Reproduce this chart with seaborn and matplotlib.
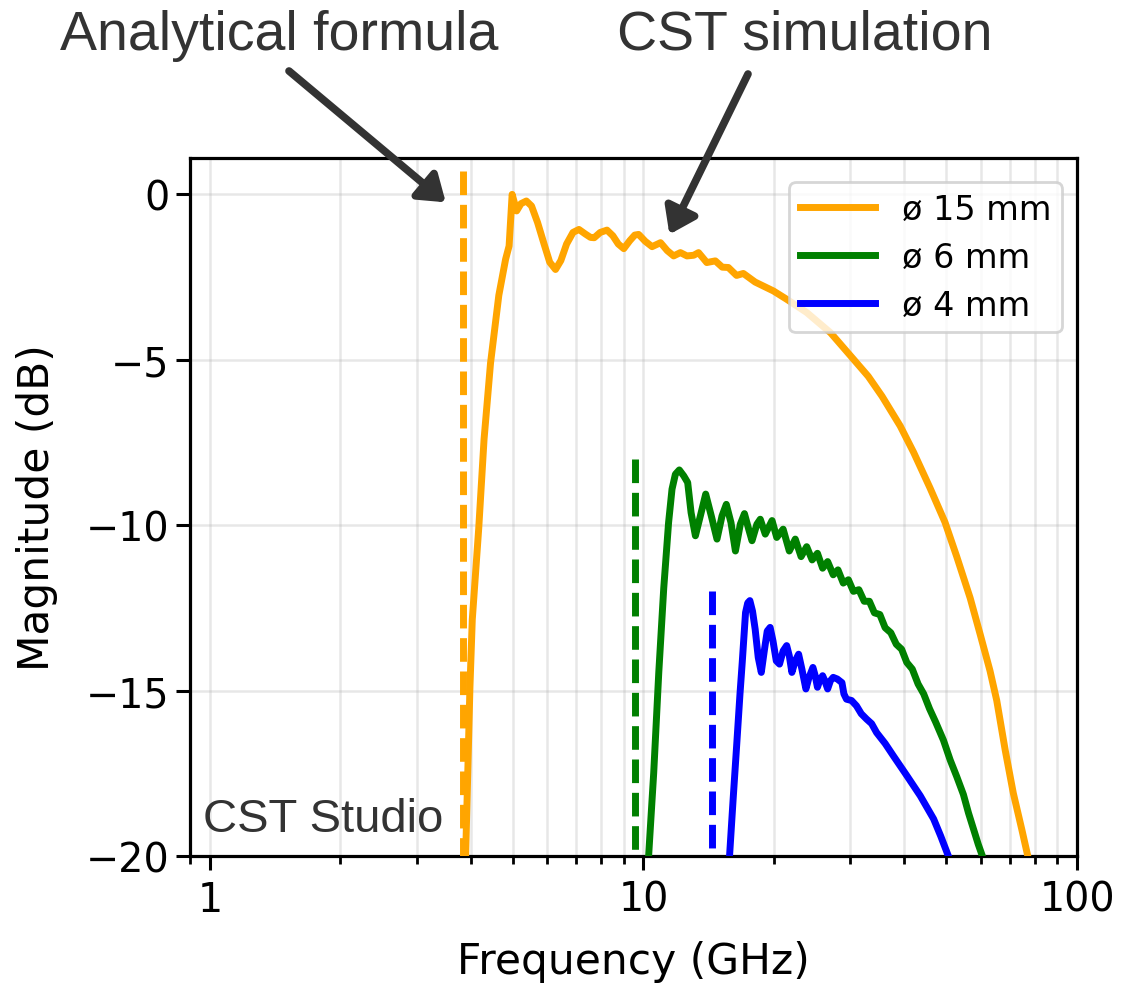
import matplotlib
matplotlib.use("Agg")
import matplotlib.pyplot as plt
import seaborn as sns
import pandas as pd
from matplotlib.ticker import FixedLocator, LogLocator, NullFormatter

# Transmission of circular waveguides of different diameters (CST simulation)
# together with the analytical cut-off frequency of each guide.

labels = ["ø 15 mm", "ø 6 mm", "ø 4 mm"]
colors = ["orange", "green", "blue"]

freq_15 = [3.89, 3.92, 3.98, 4.03, 4.17, 4.29, 4.44, 4.64, 4.81, 4.90, 4.98, 5.10,
           5.22, 5.37, 5.52, 5.70, 5.90, 6.08, 6.27, 6.45, 6.65, 6.88, 7.10, 7.35,
           7.55, 7.70, 7.95, 8.24, 8.50, 8.75, 9.01, 9.30, 9.55, 9.75, 10.1, 10.47,
           10.95, 11.35, 11.74, 12.17, 12.6, 13.06, 13.4, 14.0, 14.65, 15.2, 15.7,
           16.4, 17.0, 18.1, 18.9, 19.95, 21.4, 23.8, 27.0, 30.5, 33.0, 35.5, 39.1,
           42.0, 45.8, 49.6, 52.8, 56.7, 59.8, 63.0, 65.3, 68.3, 71.3, 74.6, 77.0]
mag_15 = [-20.0, -18.3, -14.9, -12.85, -10.1, -7.4, -5.1, -3.05, -1.96, -1.56, 0.0, -0.5,
          -0.28, -0.2, -0.35, -0.85, -1.5, -2.05, -2.27, -2.0, -1.5, -1.15, -1.06, -1.2,
          -1.3, -1.31, -1.15, -1.08, -1.25, -1.5, -1.64, -1.4, -1.23, -1.21, -1.42, -1.58,
          -1.46, -1.7, -1.86, -1.76, -1.86, -1.84, -1.76, -2.06, -2.01, -2.2, -2.21,
          -2.45, -2.39, -2.65, -2.77, -2.92, -3.17, -3.57, -4.18, -4.98, -5.5, -6.1, -7.0,
          -7.8, -8.87, -9.91, -10.95, -12.2, -13.3, -14.4, -15.3, -16.8, -18.1, -19.2, -20.0]

freq_6 = [10.28, 10.56, 10.85, 11.14, 11.43, 11.64, 11.85, 12.1, 12.39, 12.65, 12.88,
          13.18, 13.53, 13.92, 14.34, 14.78, 15.18, 15.53, 15.92, 16.3, 16.73, 17.1,
          17.49, 17.8, 18.27, 18.6, 19.1, 19.8, 20.3, 21.0, 21.7, 22.4, 23.1, 23.8,
          24.5, 25.2, 25.9, 26.6, 27.4, 28.1, 28.9, 29.7, 30.5, 31.4, 32.3, 33.2, 34.1,
          35.1, 36.1, 37.2, 38.3, 39.4, 40.5, 41.7, 43.0, 44.3, 45.7, 47.2, 49.2, 51.0,
          52.8, 54.7, 56.2, 57.7, 59.2, 60.5]
mag_6 = [-20.0, -17.5, -14.45, -11.9, -9.92, -8.91, -8.46, -8.33, -8.51, -8.71, -9.62,
         -10.32, -9.72, -9.06, -9.72, -10.42, -9.72, -9.37, -9.92, -10.78, -9.97, -9.65,
         -10.12, -10.47, -9.97, -9.82, -10.27, -9.86, -10.37, -10.12, -10.78, -10.42, -10.95, -10.65,
         -11.05, -10.85, -11.3, -11.1, -11.5, -11.35, -11.75, -11.65, -12.0, -11.95, -12.3, -12.3, -12.65,
         -12.7, -13.1, -13.25, -13.6, -13.75, -14.15, -14.35, -14.8, -15.1, -15.55, -15.95, -16.5, -17.1,
         -17.6, -18.14, -18.7, -19.18, -19.65, -20.0]

freq_4 = [15.8, 16.1, 16.4, 16.7, 16.9, 17.2, 17.4, 17.6, 17.85, 18.1, 18.4, 18.7, 19.0,
          19.3, 19.6, 19.9, 20.25, 20.6, 21.0, 21.4, 21.7, 22.0, 22.4, 22.8, 23.2, 23.7,
          24.1, 24.6, 24.9, 25.2, 25.5, 25.9, 26.2, 26.6, 27.0, 27.4, 28.0, 28.7, 29.0,
          29.4, 30.2, 31.0, 31.8, 32.7, 33.6, 34.5, 36.1, 37.7, 40.5, 43.5, 46.7, 48.5, 50.5]
mag_4 = [-20.0, -18.3, -16.7, -15.1, -14.15, -12.64, -12.35, -12.28, -12.6, -13.14, -14.0,
         -14.45, -13.8, -13.2, -13.09, -13.5, -14.1, -14.2, -13.8, -13.64, -13.95, -14.45,
         -14.1, -13.9, -14.35, -14.95, -14.6, -14.3, -14.55, -14.9, -14.7, -14.55, -14.7,
         -14.95, -14.7, -14.6, -14.65, -14.76, -15.1, -15.26, -15.3, -15.46, -15.7, -15.86,
         -16.0, -16.27, -16.6, -16.97, -17.57, -18.18, -18.88, -19.4, -20.0]

# analytical cut-off frequencies (GHz) and the top of each marker line (dB)
cutoff_freq = [3.83, 9.57, 14.38]
cutoff_top = [0.7, -8.0, -12.0]

x_ticks = [1, 10, 100]
x_tick_labels = ["1", "10", "100"]
y_ticks = [0, -5, -10, -15, -20]
y_tick_labels = ["0", "\u22125", "\u221210", "\u221215", "\u221220"]

curves = [(freq_15, mag_15), (freq_6, mag_6), (freq_4, mag_4)]

W, H = 1127, 987
fig = plt.figure(figsize=(W / 100, H / 100), dpi=100)
ax = fig.add_axes([190 / W, 130 / H, 887 / W, 698 / H])

LW = 5.0
for (f, m), lab, col in zip(curves, labels, colors):
    df = pd.DataFrame({"freq": f, "mag": m})
    sns.lineplot(data=df, x="freq", y="mag", color=col, linewidth=LW, label=lab,
                 sort=False, estimator=None, ax=ax, zorder=3)

# cut-off markers, dashed from the top down to the bottom of the axes
for fc, top, col in zip(cutoff_freq, cutoff_top, colors):
    ax.plot([fc, fc], [top, -20], color=col, linestyle=(0, (3.4, 1.4)),
            linewidth=LW, zorder=3)

ax.set_xscale("log")
ax.set_xlim(0.9, 100)
ax.set_ylim(-20, 1.1)

ax.xaxis.set_major_locator(FixedLocator(x_ticks))
ax.set_xticklabels(x_tick_labels)
ax.xaxis.set_minor_locator(LogLocator(base=10, subs=range(2, 10)))
ax.xaxis.set_minor_formatter(NullFormatter())
ax.set_yticks(y_ticks)
ax.set_yticklabels(y_tick_labels)

ax.grid(True, which="both", axis="x", color="#b0b0b0", alpha=0.3, lw=1.8)
ax.grid(True, which="major", axis="y", color="#b0b0b0", alpha=0.3, lw=1.8)
ax.set_axisbelow(True)

for s in ax.spines.values():
    s.set_linewidth(2.3)
    s.set_color("black")
ax.tick_params(which="major", length=10, width=2.2, labelsize=28.5, colors="black", pad=5)
ax.tick_params(which="minor", length=5.5, width=2.0)
ax.tick_params(axis="x", which="major", pad=7)

ax.set_xlabel("Frequency (GHz)", fontsize=30.5, labelpad=15)
ax.set_ylabel("Magnitude (dB)", fontsize=30.5, labelpad=20)

leg = ax.legend(loc="upper right", bbox_to_anchor=(0.983, 0.9656), borderaxespad=0,
                fontsize=24, handlelength=2.25, labelspacing=0.45, borderpad=0.32,
                framealpha=0.8, edgecolor="#cccccc", fancybox=True)
leg.get_frame().set_linewidth(2.0)

txt = dict(family=["Liberation Sans", "DejaVu Sans"], color="#333333")
fig.text(60 / W, 1 - 50 / H, "Analytical formula", fontsize=40, ha="left", va="baseline", **txt)
fig.text(617 / W, 1 - 50 / H, "CST simulation", fontsize=40, ha="left", va="baseline", **txt)
ax.text(0.0147, 0.036, "CST Studio", transform=ax.transAxes, fontsize=34,
        ha="left", va="baseline", zorder=5, **txt)

arrow = dict(arrowstyle="-|>,head_length=0.5,head_width=0.35", mutation_scale=30,
             lw=5.5, color="#333333", shrinkA=0, shrinkB=0)
ax.annotate("", xy=(3.50, -0.24), xycoords="data", xytext=(289, H - 72),
            textcoords="figure pixels", arrowprops=arrow, annotation_clip=False)
ax.annotate("", xy=(11.48, -1.21), xycoords="data", xytext=(748, H - 75),
            textcoords="figure pixels", arrowprops=arrow, annotation_clip=False)

fig.savefig("out.png", dpi=100)
